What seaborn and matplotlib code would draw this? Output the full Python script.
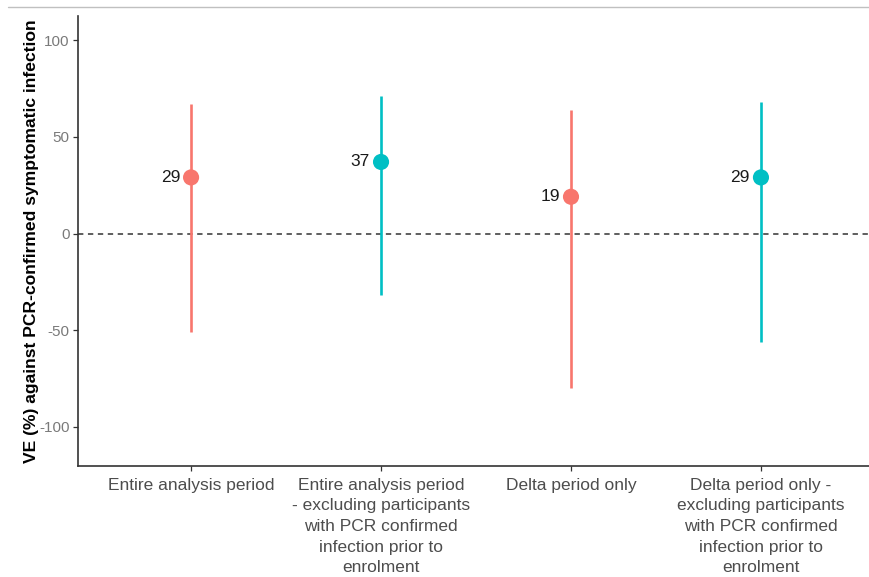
import matplotlib
matplotlib.use('Agg')
import matplotlib.pyplot as plt
import seaborn as sns
import pandas as pd
import numpy as np

# data
groups = [
    'Entire analysis period',
    'Entire analysis period\n- excluding participants\nwith PCR confirmed\ninfection prior to\nenrolment',
    'Delta period only',
    'Delta period only -\nexcluding participants\nwith PCR confirmed\ninfection prior to\nenrolment',
]
ve = [29, 37, 19, 29]
ci_low = [-51, -32, -80, -56]
ci_high = [67, 71, 64, 68]
subset = ['All', 'Excluded', 'All', 'Excluded']

df = pd.DataFrame({'group': groups, 've': ve, 'low': ci_low, 'high': ci_high, 'subset': subset})
df['pos'] = np.arange(1, len(df) + 1)

palette = {'All': '#F8766D', 'Excluded': '#00BFC4'}

sns.set_style('white')
plt.rcParams['font.family'] = ['Liberation Sans', 'DejaVu Sans']
plt.rcParams['axes.unicode_minus'] = False

fig = plt.figure(figsize=(8.7, 5.77), dpi=100)
ax = fig.add_axes([0.0897, 0.1924, 0.9103, 0.78])

ax.axhline(0, color='#333333', linestyle=(0, (3.5, 3)), linewidth=1.1, zorder=1)

for _, row in df.iterrows():
    ax.vlines(row['pos'], row['low'], row['high'], color=palette[row['subset']], linewidth=1.9, zorder=2)

sns.scatterplot(data=df, x='pos', y='ve', hue='subset', palette=palette, s=135,
                marker='o', edgecolor='none', legend=False, ax=ax, zorder=3)

for _, row in df.iterrows():
    ax.text(row['pos'] - 0.058, row['ve'], f"{row['ve']}", ha='right', va='center',
            fontsize=12.5, color='#1a1a1a')

ax.set_xlim(0.405, 4.574)
ax.set_ylim(-120.2, 112.5)
ax.set_yticks([-100, -50, 0, 50, 100])
ax.set_xticks(df['pos'])
ax.set_xticklabels(df['group'], fontsize=12.5, color='#4d4d4d', linespacing=1.47)
ax.tick_params(axis='y', labelsize=11, labelcolor='#7a7a7a')
ax.tick_params(axis='both', length=3.5, width=0.9, color='#333333', bottom=True, left=True, pad=2.5)
ax.tick_params(axis='x', pad=5)

ax.set_xlabel('')
ax.set_ylabel('VE (%) against PCR-confirmed symptomatic infection', fontsize=12.6,
              fontweight='bold', color='black', labelpad=0.5)

sns.despine(ax=ax, top=True, right=True)
for side in ['left', 'bottom']:
    ax.spines[side].set_color('#333333')
    ax.spines[side].set_linewidth(1.2)

# thin page rule at the top
fig.add_artist(plt.Line2D([8 / 870, 1], [1 - 7 / 577, 1 - 7 / 577], color='#c0c0c0', linewidth=1.0))

fig.savefig('out.png', dpi=100)
